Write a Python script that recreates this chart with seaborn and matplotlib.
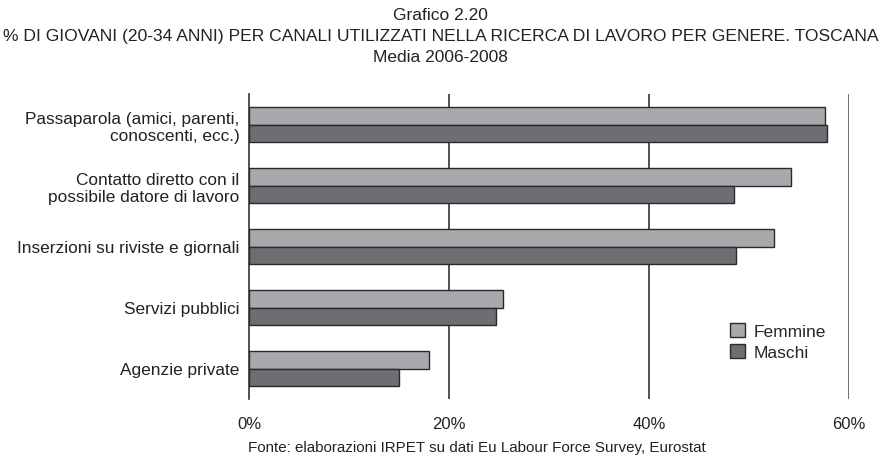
import matplotlib
matplotlib.use('Agg')
import matplotlib.pyplot as plt
import seaborn as sns
import pandas as pd

# ------------------- Data ---------------------
categories = ['Passaparola (amici, parenti,\nconoscenti, ecc.)',
              'Contatto diretto con il\npossibile datore di lavoro',
              'Inserzioni su riviste e giornali',
              'Servizi pubblici',
              'Agenzie private']
femmine = [57.6, 54.2, 52.5, 25.4, 18.0]
maschi = [57.8, 48.5, 48.7, 24.7, 15.0]
x_ticks = [0, 20, 40, 60]

df = pd.DataFrame({
    'Canale': categories * 2,
    'Genere': ['Femmine'] * len(categories) + ['Maschi'] * len(categories),
    'Valore': femmine + maschi,
})

sns.set_style('white')
plt.rcParams['font.family'] = ['Liberation Sans', 'DejaVu Sans']

fig = plt.figure(figsize=(8.81, 4.64), dpi=100)
ax = fig.add_axes([249 / 881, 64 / 464, 600 / 881, 305 / 464])

palette = {'Femmine': '#a7a9ac', 'Maschi': '#6d6e71'}
sns.barplot(data=df, y='Canale', x='Valore', hue='Genere', orient='h',
            palette=palette, width=0.59, edgecolor='#2a2a2a', linewidth=1.0,
            saturation=1, ax=ax, zorder=3)

ax.set_xlim(0, 60)
ax.set_ylim(len(categories) - 0.5, -0.5)
ax.set_xticks(x_ticks)
ax.set_xticklabels([f'{t}%' for t in x_ticks], fontsize=12, color='#222222')
ax.tick_params(axis='x', length=0, pad=12)
ax.set_xlabel('')
ax.set_ylabel('')

# category labels, ticks at boundaries
ax.set_yticks(range(len(categories)))
ax.set_yticklabels(categories, fontsize=12.4, color='#222222', linespacing=1.2)
ax.tick_params(axis='y', which='major', length=0, pad=7)
ax.set_yticks([i - 0.5 for i in range(len(categories) + 1)], minor=True)
ax.tick_params(axis='y', which='minor', length=10, width=1.2, direction='inout', color='#333333')

for t, c in zip(x_ticks[1:], ['#333333', '#333333', '#555555']):
    ax.axvline(t, color=c, linewidth=1.2, zorder=1)

for side in ['top', 'right', 'bottom']:
    ax.spines[side].set_visible(False)
ax.spines['left'].set_color('#333333')
ax.spines['left'].set_linewidth(1.2)

leg = ax.legend(loc='upper left', bbox_to_anchor=(0.788, 0.277), frameon=False,
                fontsize=12.5, handlelength=0.85, handleheight=0.85,
                handletextpad=0.5, labelspacing=0.3, borderpad=0)

title_font = ['Liberation Sans Narrow', 'Liberation Sans']
fig.text(0.5, 1 - 15 / 464, 'Grafico 2.20', ha='center', va='center', fontsize=12.5,
         family=title_font, color='#222222')
fig.text(0.5, 1 - 36 / 464,
         '% DI GIOVANI (20-34 ANNI) PER CANALI UTILIZZATI NELLA RICERCA DI LAVORO PER GENERE. TOSCANA',
         ha='center', va='center', fontsize=12.6,
         family=title_font, color='#222222')
fig.text(0.5, 1 - 57 / 464, 'Media 2006-2008', ha='center', va='center', fontsize=12.5,
         family=title_font, color='#222222')
fig.text(0.541, 1 - 448 / 464,
         'Fonte: elaborazioni IRPET su dati Eu Labour Force Survey, Eurostat',
         ha='center', va='center', fontsize=10.9,
         family=title_font, color='#222222')

fig.savefig('out.png', dpi=100)
